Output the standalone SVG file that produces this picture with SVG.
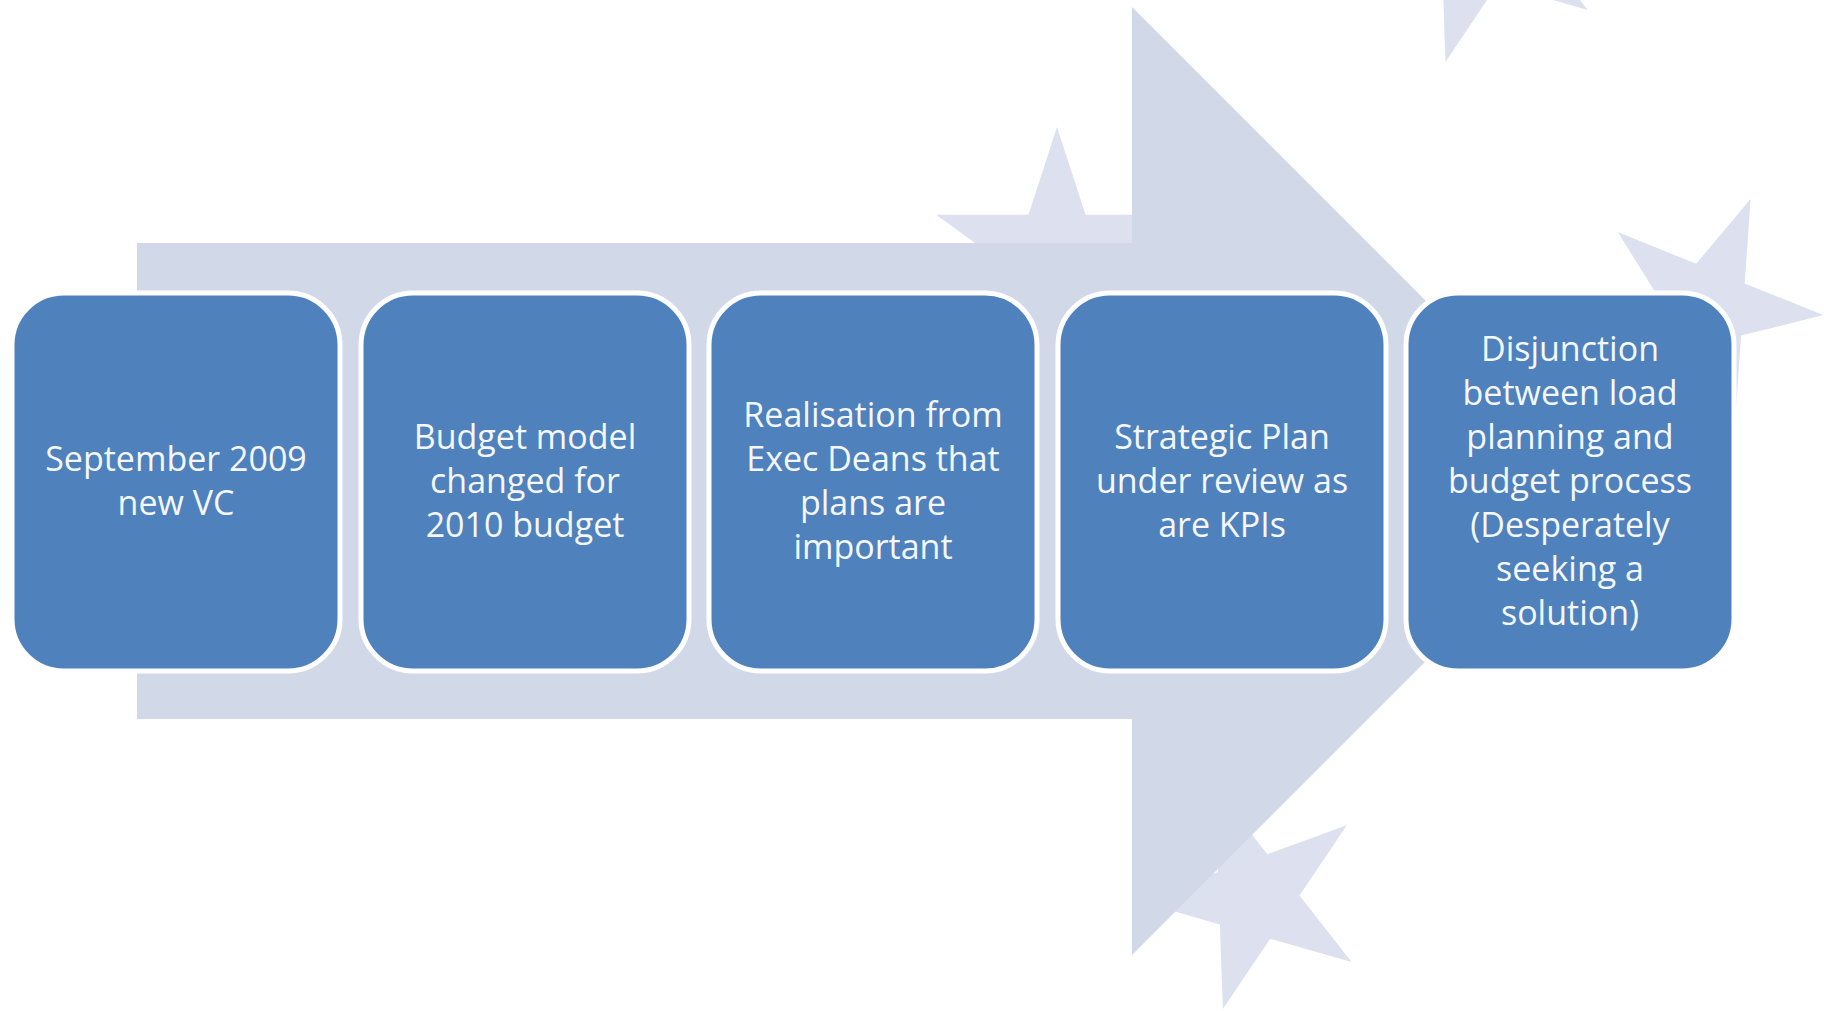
<svg xmlns="http://www.w3.org/2000/svg" width="1824" height="1011" viewBox="0 0 1824 1011">
  <style>
    .star { fill: #dde0ee; }
    .arrow { fill: #d1d8e8; }
    .box { fill: #4f81bd; stroke: #ffffff; stroke-width: 5; }
    .label { font-family: "Open Sans", "Liberation Sans", sans-serif; font-size: 34px; fill: #f4f7fb; text-anchor: middle; }
  </style>
  <rect width="1824" height="1011" fill="#ffffff"/>
  <g id="background">
    <polygon class="star" points="1587.9,10.1 1497.8,-16 1445.4,62 1442.4,-31.8 1352.1,-57.5 1440.4,-89.4 1436.9,-183.2 1494.5,-109.1 1582.7,-141.4 1530,-63.7"/>
    <polygon class="star" points="1057,127 1085.5,214.8 1177.8,214.8 1103.1,269 1131.7,356.7 1057,302.5 982.3,356.7 1010.9,269 936.2,214.8 1028.5,214.8"/>
    <polygon class="star" points="1823.2,315.1 1741.1,335.6 1735.2,420 1690.3,348.3 1608.2,368.7 1662.6,303.9 1617.8,232.1 1696.2,263.8 1750.6,199 1744.7,283.4"/>
    <polygon class="star" points="1346.8,825.3 1299.5,895.4 1351.6,962.1 1270.2,938.8 1222.9,1009 1219.9,924.4 1138.6,901.1 1218.1,872.1 1215.2,787.5 1267.3,854.2"/>
    <polygon class="arrow" points="137,243 1132,243 1132,7 1606,481 1132,955 1132,719 137,719"/>
  </g>
  <g id="connectors"></g>
  <g id="node1">
    <rect class="box" x="12" y="293" width="328" height="378" rx="52" ry="52"/>
    <text class="label" x="176" y="471">September 2009</text>
    <text class="label" x="176" y="515">new VC</text>
  </g>
  <g id="node2">
    <rect class="box" x="361" y="293" width="328" height="378" rx="52" ry="52"/>
    <text class="label" x="525" y="449">Budget model</text>
    <text class="label" x="525" y="493">changed for</text>
    <text class="label" x="525" y="537">2010 budget</text>
  </g>
  <g id="node3">
    <rect class="box" x="709" y="293" width="328" height="378" rx="52" ry="52"/>
    <text class="label" x="873" y="427">Realisation from</text>
    <text class="label" x="873" y="471">Exec Deans that</text>
    <text class="label" x="873" y="515">plans are</text>
    <text class="label" x="873" y="559">important</text>
  </g>
  <g id="node4">
    <rect class="box" x="1058" y="293" width="328" height="378" rx="52" ry="52"/>
    <text class="label" x="1222" y="449">Strategic Plan</text>
    <text class="label" x="1222" y="493">under review as</text>
    <text class="label" x="1222" y="537">are KPIs</text>
  </g>
  <g id="node5">
    <rect class="box" x="1406" y="293" width="328" height="378" rx="52" ry="52"/>
    <text class="label" x="1570" y="361">Disjunction</text>
    <text class="label" x="1570" y="405">between load</text>
    <text class="label" x="1570" y="449">planning and</text>
    <text class="label" x="1570" y="493">budget process</text>
    <text class="label" x="1570" y="537">(Desperately</text>
    <text class="label" x="1570" y="581">seeking a</text>
    <text class="label" x="1570" y="625">solution)</text>
  </g>
</svg>
